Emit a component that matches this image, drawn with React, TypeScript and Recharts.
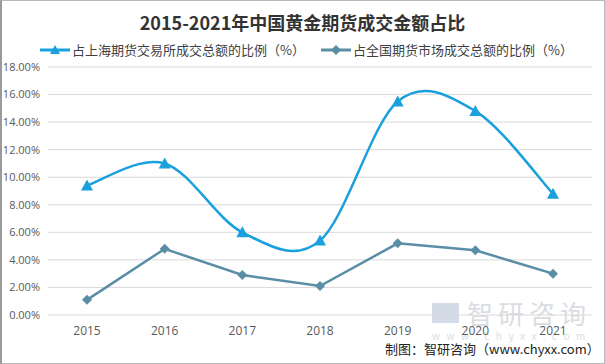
import { LineChart, Line, XAxis, YAxis, CartesianGrid } from 'recharts';

const years = ['2015', '2016', '2017', '2018', '2019', '2020', '2021'];
const shfeShare = [9.4, 11.0, 6.0, 5.4, 15.5, 14.8, 8.8];
const nationalShare = [1.1, 4.8, 2.9, 2.1, 5.2, 4.7, 3.0];
const yTicks = [0, 2, 4, 6, 8, 10, 12, 14, 16, 18];

const seriesNames = ['占上海期货交易所成交总额的比例（%）', '占全国期货市场成交总额的比例（%）'];
const title = '2015-2021年中国黄金期货成交金额占比';

const BLUE = '#1aa0dc';
const SLATE = '#5a8ea6';

const data = years.map((y, i) => ({ year: y, shfe: shfeShare[i], national: nationalShare[i] }));

const cjk = '"Noto Sans CJK SC", "Noto Sans", sans-serif';

// Excel-style smoothed line (uniform Catmull-Rom)
const excelSmooth: any = (context: any) => {
  let pts: number[][] = [];
  return {
    areaStart() {},
    areaEnd() {},
    lineStart() {
      pts = [];
    },
    point(x: number, y: number) {
      pts.push([+x, +y]);
    },
    lineEnd() {
      if (!pts.length) return;
      context.moveTo(pts[0][0], pts[0][1]);
      for (let i = 0; i < pts.length - 1; i++) {
        const p0 = pts[i - 1] || pts[i];
        const p1 = pts[i];
        const p2 = pts[i + 1];
        const p3 = pts[i + 2] || p2;
        context.bezierCurveTo(
          p1[0] + (p2[0] - p0[0]) / 6,
          p1[1] + (p2[1] - p0[1]) / 6,
          p2[0] - (p3[0] - p1[0]) / 6,
          p2[1] - (p3[1] - p1[1]) / 6,
          p2[0],
          p2[1]
        );
      }
    },
  };
};

function Triangle(props: any) {
  const { cx, cy } = props;
  if (cx == null || cy == null) return null;
  return <path d={`M${cx},${cy - 6} L${cx + 6},${cy + 5} L${cx - 6},${cy + 5} Z`} fill={BLUE} />;
}

function Diamond(props: any) {
  const { cx, cy } = props;
  if (cx == null || cy == null) return null;
  return <path d={`M${cx},${cy - 5} L${cx + 5},${cy} L${cx},${cy + 5} L${cx - 5},${cy} Z`} fill={SLATE} />;
}

function LegendItem({ color, label, shape }: { color: string; label: string; shape: 'tri' | 'dia' }) {
  return (
    <div style={{ display: 'flex', alignItems: 'center' }}>
      <svg width={30} height={12} style={{ marginRight: 2 }}>
        <line x1={0} y1={6} x2={30} y2={6} stroke={color} strokeWidth={3} />
        {shape === 'tri' ? (
          <path d="M15,1 L20,10 L10,10 Z" fill={color} />
        ) : (
          <path d="M15,1 L20,6 L15,11 L10,6 Z" fill={color} />
        )}
      </svg>
      <span>{label}</span>
    </div>
  );
}

export default function App() {
  return (
    <div
      style={{
        position: 'absolute',
        left: 0,
        top: 0,
        width: 605,
        height: 364,
        background: '#fff',
        overflow: 'hidden',
      }}
    >
      <div
        style={{
          position: 'absolute',
          top: 9,
          left: 0,
          width: 605,
          textAlign: 'center',
          fontFamily: cjk,
          fontWeight: 'bold',
          fontSize: 18,
          lineHeight: '26px',
          color: '#333',
        }}
      >
        {title}
      </div>
      <div
        style={{
          position: 'absolute',
          top: 40,
          left: 40,
          display: 'flex',
          gap: 16,
          fontFamily: cjk,
          fontSize: 13,
          lineHeight: '20px',
          color: '#404040',
        }}
      >
        <LegendItem color={BLUE} label={seriesNames[0]} shape="tri" />
        <LegendItem color={SLATE} label={seriesNames[1]} shape="dia" />
      </div>

      <div style={{ position: 'absolute', left: 432, top: 298, color: '#d9dde2', fontFamily: cjk }}>
        <div style={{ display: 'flex', alignItems: 'center' }}>
          <div style={{ width: 27, height: 20, background: '#d3dbe6', marginRight: 8 }} />
          <span style={{ fontSize: 26, letterSpacing: 5, lineHeight: '30px' }}>智研咨询</span>
        </div>
        <div style={{ fontSize: 10, letterSpacing: 6.5, marginTop: 2, lineHeight: '12px' }}>www.chyxx.com</div>
      </div>

      <div style={{ position: 'absolute', top: 0, left: 0 }}>
        <LineChart width={605} height={364} data={data} margin={{ top: 67, right: 13, bottom: 19, left: 2 }}>
          <CartesianGrid vertical={false} stroke="#d9d9d9" />
          <XAxis
            dataKey="year"
            axisLine={false}
            tickLine={false}
            tickMargin={5}
            height={30}
            padding={{ left: 39, right: 39 }}
            tick={{ fill: '#595959', fontSize: 12, fontFamily: '"Open Sans", sans-serif' }}
          />
          <YAxis
            domain={[0, 18]}
            ticks={yTicks}
            axisLine={false}
            tickLine={false}
            width={46}
            tickMargin={2}
            tickFormatter={(v: number) => `${v.toFixed(2)}%`}
            tick={{ fill: '#595959', fontSize: 11, fontFamily: '"Open Sans", sans-serif' }}
          />
          <Line
            type={excelSmooth}
            dataKey="shfe"
            stroke={BLUE}
            strokeWidth={2.5}
            dot={<Triangle />}
            activeDot={false}
            isAnimationActive={false}
          />
          <Line
            type="linear"
            dataKey="national"
            stroke={SLATE}
            strokeWidth={2.5}
            dot={<Diamond />}
            activeDot={false}
            isAnimationActive={false}
          />
        </LineChart>
      </div>

      <div
        style={{
          position: 'absolute',
          left: 385,
          top: 339,
          fontFamily: cjk,
          fontSize: 13,
          color: '#222',
        }}
      >
        制图：智研咨询（www.chyxx.com）
      </div>

      <div
        style={{
          position: 'absolute',
          inset: 0,
          boxSizing: 'border-box',
          border: '1px solid #b8b8b8',
          borderLeft: '2px solid #9a9a9a',
          pointerEvents: 'none',
        }}
      />
    </div>
  );
}
